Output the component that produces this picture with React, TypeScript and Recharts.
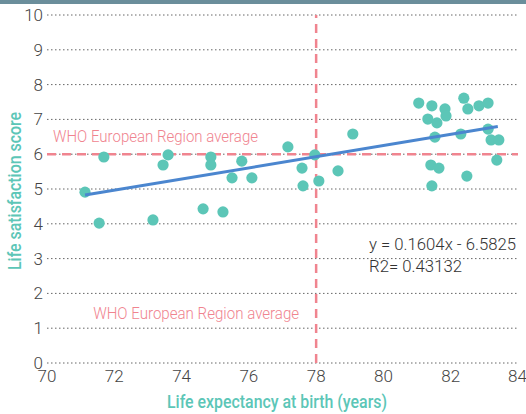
import {
  ScatterChart,
  Scatter,
  CartesianGrid,
  XAxis,
  YAxis,
  ReferenceLine
} from "recharts";

const lifeExpectancy = [
  71.13, 71.69, 71.55, 73.15, 73.45, 73.6, 74.64, 74.87, 74.87, 75.23,
  75.5, 75.79, 76.09, 77.16, 77.58, 77.61, 77.96, 78.08, 78.65, 79.09,
  81.05, 81.44, 81.83, 81.32, 81.59, 81.86, 81.53, 81.41, 81.65, 81.44,
  82.39, 82.51, 82.84, 83.11, 82.3, 83.11, 83.2, 83.43, 83.37, 82.48
];

const lifeSatisfaction = [
  4.91, 5.92, 4.02, 4.11, 5.69, 5.98, 4.43, 5.92, 5.69, 4.34,
  5.32, 5.8, 5.32, 6.21, 5.6, 5.09, 5.98, 5.23, 5.52, 6.58,
  7.47, 7.39, 7.3, 7.01, 6.9, 7.1, 6.49, 5.69, 5.6, 5.09,
  7.61, 7.3, 7.39, 7.47, 6.58, 6.72, 6.41, 6.41, 5.83, 5.37
];

const xTicks = [70, 72, 74, 76, 78, 80, 82, 84];
const yTicks = [0, 1, 2, 3, 4, 5, 6, 7, 8, 9, 10];

// trend line from the fitted equation
const slope = 0.1604;
const intercept = -6.5825;
const trendRange = [71.13, 83.4];

const regionAvgX = 78;
const regionAvgY = 6;

const FONT = "Roboto, 'Liberation Sans', sans-serif";
const TEAL = "#5cc6b7";
const PINK = "#f0848f";
const BLUE = "#4b86cf";

const points = lifeExpectancy.map((x, i) => ({ x, y: lifeSatisfaction[i] }));
const trend = trendRange.map((x) => ({ x, y: slope * x + intercept }));

const Dot = (props: any) => (
  <circle cx={props.cx} cy={props.cy} r={5.6} fill={TEAL} />
);

// the original uses a condensed face, so squeeze text to its width
const HLabel = (props: any) => {
  const { x, y } = props.viewBox;
  return (
    <text
      x={x + 6}
      y={y - 12}
      fill={PINK}
      fontSize={17}
      fontWeight={300}
      fontFamily={FONT}
      textLength={205}
      lengthAdjust="spacingAndGlyphs"
    >
      WHO European Region average
    </text>
  );
};

const VLabel = (props: any) => {
  const { x, y, height } = props.viewBox;
  return (
    <text
      x={x - 223}
      y={y + height - 44}
      fill={PINK}
      fontSize={17}
      fontWeight={300}
      fontFamily={FONT}
      textLength={206}
      lengthAdjust="spacingAndGlyphs"
    >
      WHO European Region average
    </text>
  );
};

const YTitle = (props: any) => {
  const { y, height } = props.viewBox;
  const cy = y + height / 2 + 2;
  return (
    <text
      x={14}
      y={cy}
      transform={`rotate(-90, 14, ${cy})`}
      textAnchor="middle"
      dominantBaseline="central"
      fill={TEAL}
      fontSize={19}
      fontWeight={500}
      fontFamily={FONT}
      textLength={158}
      lengthAdjust="spacingAndGlyphs"
    >
      Life satisfaction score
    </text>
  );
};

const XTitle = () => (
  <text
    x={167}
    y={408}
    fill={TEAL}
    fontSize={19}
    fontWeight={500}
    fontFamily={FONT}
    textLength={220}
    lengthAdjust="spacingAndGlyphs"
  >
    Life expectancy at birth (years)
  </text>
);

const tickStyle = { fill: "#444", fontSize: 17, fontWeight: 300, fontFamily: FONT };

export default function App() {
  return (
    <div
      style={{
        position: "absolute",
        left: 0,
        top: 0,
        width: 526,
        height: 414,
        background: "#fff"
      }}
    >
      <div style={{ height: 4, background: "#6b8e9b" }} />
      <div style={{ position: "absolute", left: 0, top: 0 }}>
        <ScatterChart
          width={526}
          height={414}
          margin={{ top: 15, right: 8, bottom: 0, left: 0 }}
        >
          <CartesianGrid
            vertical={false}
            stroke="#666"
            strokeDasharray="1.5 2.5"
          />
          <XAxis
            type="number"
            dataKey="x"
            domain={[70, 84]}
            ticks={xTicks}
            axisLine={false}
            tickLine={false}
            tickSize={0}
            tickMargin={7}
            height={51}
            tick={tickStyle}
            label={<XTitle />}
          />
          <YAxis
            type="number"
            dataKey="y"
            domain={[0, 10]}
            ticks={yTicks}
            axisLine={false}
            tickLine={false}
            tickSize={0}
            tickMargin={4}
            width={47}
            tick={tickStyle}
            label={<YTitle />}
          />
          <ReferenceLine
            y={regionAvgY}
            stroke={PINK}
            strokeWidth={2.5}
            strokeDasharray="9 6"
            label={<HLabel />}
          />
          <ReferenceLine
            x={regionAvgX}
            stroke={PINK}
            strokeWidth={2.5}
            strokeDasharray="9 6"
            label={<VLabel />}
          />
          <Scatter data={points} shape={<Dot />} isAnimationActive={false} />
          <Scatter
            data={trend}
            line={{ stroke: BLUE, strokeWidth: 3 }}
            shape={() => null}
            isAnimationActive={false}
          />
        </ScatterChart>
      </div>
      <svg
        width={526}
        height={414}
        style={{ position: "absolute", left: 0, top: 0, pointerEvents: "none" }}
      >
        <text
          x={369}
          y={250}
          fill="#333"
          fontSize={17}
          fontWeight={300}
          fontFamily={FONT}
          textLength={147}
          lengthAdjust="spacingAndGlyphs"
        >
          y = 0.1604x - 6.5825
        </text>
        <text
          x={369}
          y={272}
          fill="#333"
          fontSize={17}
          fontWeight={300}
          fontFamily={FONT}
          textLength={93}
          lengthAdjust="spacingAndGlyphs"
        >
          R2= 0.43132
        </text>
      </svg>
    </div>
  );
}
